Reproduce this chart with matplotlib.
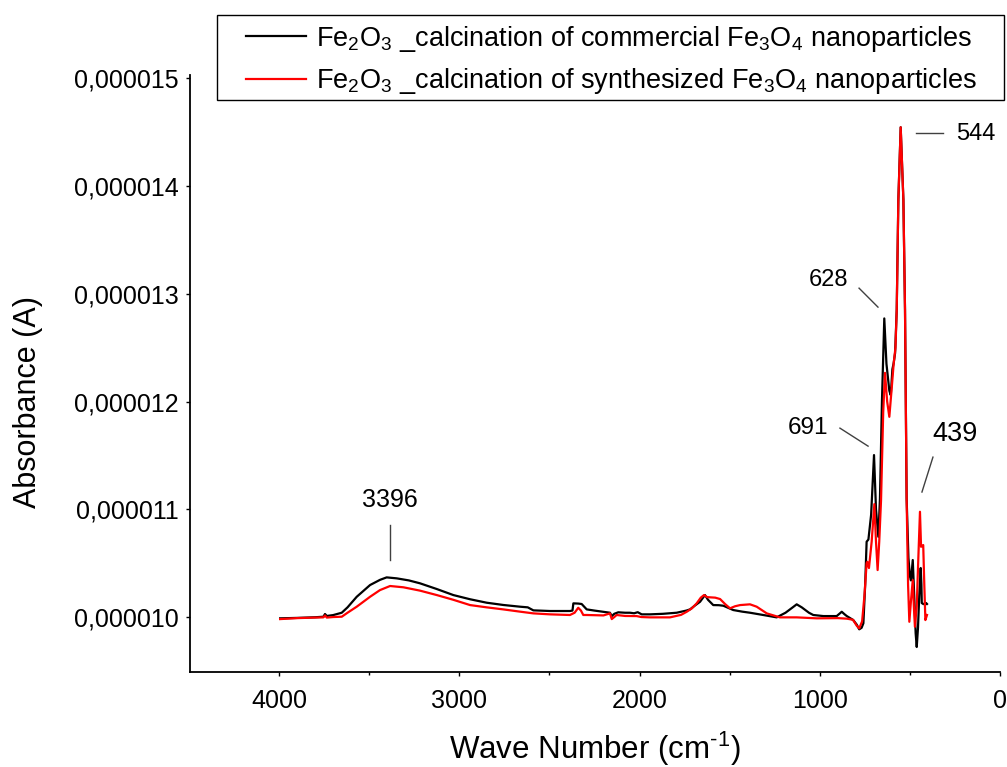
import matplotlib
matplotlib.use("Agg")
import matplotlib.pyplot as plt
from matplotlib.patches import Rectangle
from matplotlib.ticker import FuncFormatter, MultipleLocator
import numpy as np

plt.rcParams['font.family'] = ['Liberation Sans', 'DejaVu Sans']
plt.rcParams['mathtext.fontset'] = 'custom'
plt.rcParams['mathtext.rm'] = 'Liberation Sans'
plt.rcParams['mathtext.it'] = 'Liberation Sans:italic'
plt.rcParams['mathtext.default'] = 'regular'

# wave numbers (cm-1) and absorbance (x 1e-6 A)
wn_black = [3994, 3900, 3800, 3754, 3745, 3735, 3700, 3652, 3620, 3569, 3495, 3440, 3403, 3347,
            3280, 3218, 3125, 3033, 2940, 2848, 2756, 2663, 2620, 2589, 2497, 2386, 2372, 2367,
            2340, 2321, 2293, 2250, 2164, 2154, 2140, 2118, 2080, 2053, 2030, 2010, 1988, 1942,
            1870, 1794, 1740, 1720, 1690, 1664, 1637, 1620, 1591, 1560, 1535, 1480, 1430, 1387,
            1300, 1239, 1190, 1150, 1128, 1100, 1060, 1036, 980, 906, 878, 862, 850, 814, 795,
            781, 768, 758, 748, 740, 730, 715, 699, 688, 675, 666, 655, 642, 630, 614, 606, 597,
            590, 582, 573, 564, 551, 536, 527, 518, 508, 500, 494, 484, 476, 468, 462, 455, 448,
            440, 436, 434, 425, 410, 405]
ab_black = [9.988, 9.992, 9.998, 10.003, 10.028, 10.010, 10.018, 10.040, 10.090, 10.188, 10.297,
            10.345, 10.368, 10.359, 10.340, 10.313, 10.260, 10.204, 10.165, 10.133, 10.112, 10.096,
            10.090, 10.062, 10.056, 10.056, 10.060, 10.127, 10.125, 10.121, 10.071, 10.060, 10.040,
            10.009, 10.030, 10.044, 10.040, 10.040, 10.035, 10.045, 10.025, 10.025, 10.030, 10.040,
            10.060, 10.071, 10.110, 10.142, 10.204, 10.160, 10.111, 10.110, 10.105, 10.065, 10.050,
            10.040, 10.015, 9.997, 10.040, 10.090, 10.118, 10.090, 10.040, 10.019, 10.009, 10.009,
            10.049, 10.025, 10.009, 9.972, 9.930, 9.886, 9.900, 9.942, 10.300, 10.699, 10.720,
            10.950, 11.503, 11.000, 10.745, 11.100, 12.000, 12.771, 12.350, 12.100, 12.059, 12.300,
            12.356, 12.450, 12.850, 13.870, 14.545, 13.870, 12.850, 11.100, 10.550, 10.380, 10.340,
            10.529, 10.200, 9.850, 9.722, 9.900, 10.200, 10.455, 10.300, 10.130, 10.120, 10.130,
            10.121]

wn_red = [3994, 3900, 3800, 3754, 3745, 3735, 3700, 3652, 3620, 3569, 3495, 3440, 3384, 3310,
          3218, 3125, 3033, 2940, 2848, 2756, 2663, 2589, 2497, 2386, 2360, 2340, 2325, 2312,
          2293, 2200, 2164, 2154, 2140, 2127, 2080, 2016, 1990, 1942, 1831, 1770, 1738, 1710,
          1683, 1660, 1642, 1625, 1609, 1580, 1553, 1525, 1498, 1470, 1442, 1387, 1350, 1294,
          1221, 1128, 1017, 900, 850, 816, 795, 781, 765, 752, 740, 736, 727, 712, 697, 688,
          679, 670, 660, 648, 638, 626, 614, 602, 590, 580, 573, 564, 551, 536, 527, 518, 510,
          503, 494, 484, 478, 472, 462, 452, 444, 438, 432, 426, 420, 414, 405]
ab_red = [9.981, 9.990, 9.995, 9.997, 10.015, 9.995, 10.000, 10.003, 10.040, 10.096, 10.188,
          10.250, 10.288, 10.276, 10.245, 10.204, 10.160, 10.111, 10.090, 10.071, 10.050, 10.034,
          10.025, 10.019, 10.040, 10.086, 10.060, 10.019, 10.019, 10.015, 10.034, 9.981, 10.000,
          10.019, 10.010, 10.009, 10.000, 9.997, 9.997, 10.020, 10.049, 10.080, 10.127, 10.180,
          10.204, 10.185, 10.183, 10.180, 10.167, 10.120, 10.081, 10.100, 10.111, 10.118, 10.096,
          10.034, 9.997, 9.997, 9.988, 9.990, 9.985, 9.975, 9.920, 9.895, 9.960, 10.200, 10.500,
          10.513, 10.455, 10.700, 11.048, 10.700, 10.436, 10.700, 11.085, 11.900, 12.266, 12.000,
          11.858, 12.100, 12.350, 12.500, 12.850, 13.870, 14.545, 13.870, 12.850, 11.085, 10.300,
          9.956, 10.150, 10.343, 10.100, 9.910, 10.100, 10.600, 10.977, 10.652, 10.660, 10.668,
          10.300, 9.972, 10.019]

labels = [r'Fe$_2$O$_3$ _calcination of commercial Fe$_3$O$_4$ nanoparticles',
          r'Fe$_2$O$_3$ _calcination of synthesized Fe$_3$O$_4$ nanoparticles']

# peak labels: text, text position, alignment, size, leader line (wn, absorbance x1e-6)
peaks = [
    ("3396", (3384, 11.085), 'center', 18, [(3384, 10.853), (3384, 10.529)]),
    ("544", (244, 14.48), 'left', 17, [(466, 14.49), (316, 14.49)]),
    ("628", (949, 13.126), 'center', 17, [(782, 13.052), (677, 12.876)]),
    ("691", (1065, 11.753), 'center', 17.5, [(888, 11.753), (732, 11.586)]),
    ("439", (250, 11.70), 'center', 19.5, [(372, 11.484), (433, 11.16)]),
]

W, H = 1007, 767
fig = plt.figure(figsize=(W / 100, H / 100), dpi=100)
ax = fig.add_axes([190 / W, 1 - 672 / H, 810 / W, 597 / H])

scale = 1e-6
l1, = ax.plot(wn_black, np.array(ab_black) * scale, color='black', lw=1.6)
l2, = ax.plot(wn_red, np.array(ab_red) * scale, color='#ff0000', lw=1.6)

for txt, (tx, ty), ha, fs, line in peaks:
    xs = [p[0] for p in line]
    ys = [p[1] * scale for p in line]
    ax.plot(xs, ys, color='#404040', lw=1)
    ax.text(tx, ty * scale, txt, ha=ha, va='center', fontsize=fs)

ax.set_xlim(4494, 0)
ax.set_ylim(9.49e-6, 15.03e-6)
ax.xaxis.set_major_locator(MultipleLocator(1000))
ax.xaxis.set_minor_locator(MultipleLocator(500))
ax.yaxis.set_major_locator(MultipleLocator(1e-6))
ax.yaxis.set_major_formatter(FuncFormatter(lambda v, p: f"{v:.6f}".replace('.', ',')))

for s in ['top', 'right']:
    ax.spines[s].set_visible(False)
for s in ['left', 'bottom']:
    ax.spines[s].set_linewidth(1.3)
ax.tick_params(axis='both', which='major', direction='out', length=3, width=1, labelsize=18, pad=5)
ax.tick_params(axis='x', which='minor', direction='out', length=2, width=1)
ax.tick_params(axis='x', pad=9)

ax.set_xlabel(r'Wave Number (cm$^{\text{-}1}$)', fontsize=22.5)
ax.xaxis.set_label_coords(0.5, -0.096)
ax.set_ylabel('Absorbance (A)', fontsize=22)
ax.yaxis.set_label_coords(-0.181, 0.452)

# legend box
fig.add_artist(Rectangle((217 / W, 1 - 100 / H), 787 / W, 85 / H, transform=fig.transFigure,
                         fill=False, edgecolor='black', lw=1))
fig.legend([l1, l2], labels, loc='center left', bbox_to_anchor=(246 / W, 1 - 60 / H),
           fontsize=19.5, frameon=False, handlelength=2.2, handletextpad=0.4,
           labelspacing=0.45, borderpad=0, borderaxespad=0)

fig.savefig('out.png', dpi=100)
